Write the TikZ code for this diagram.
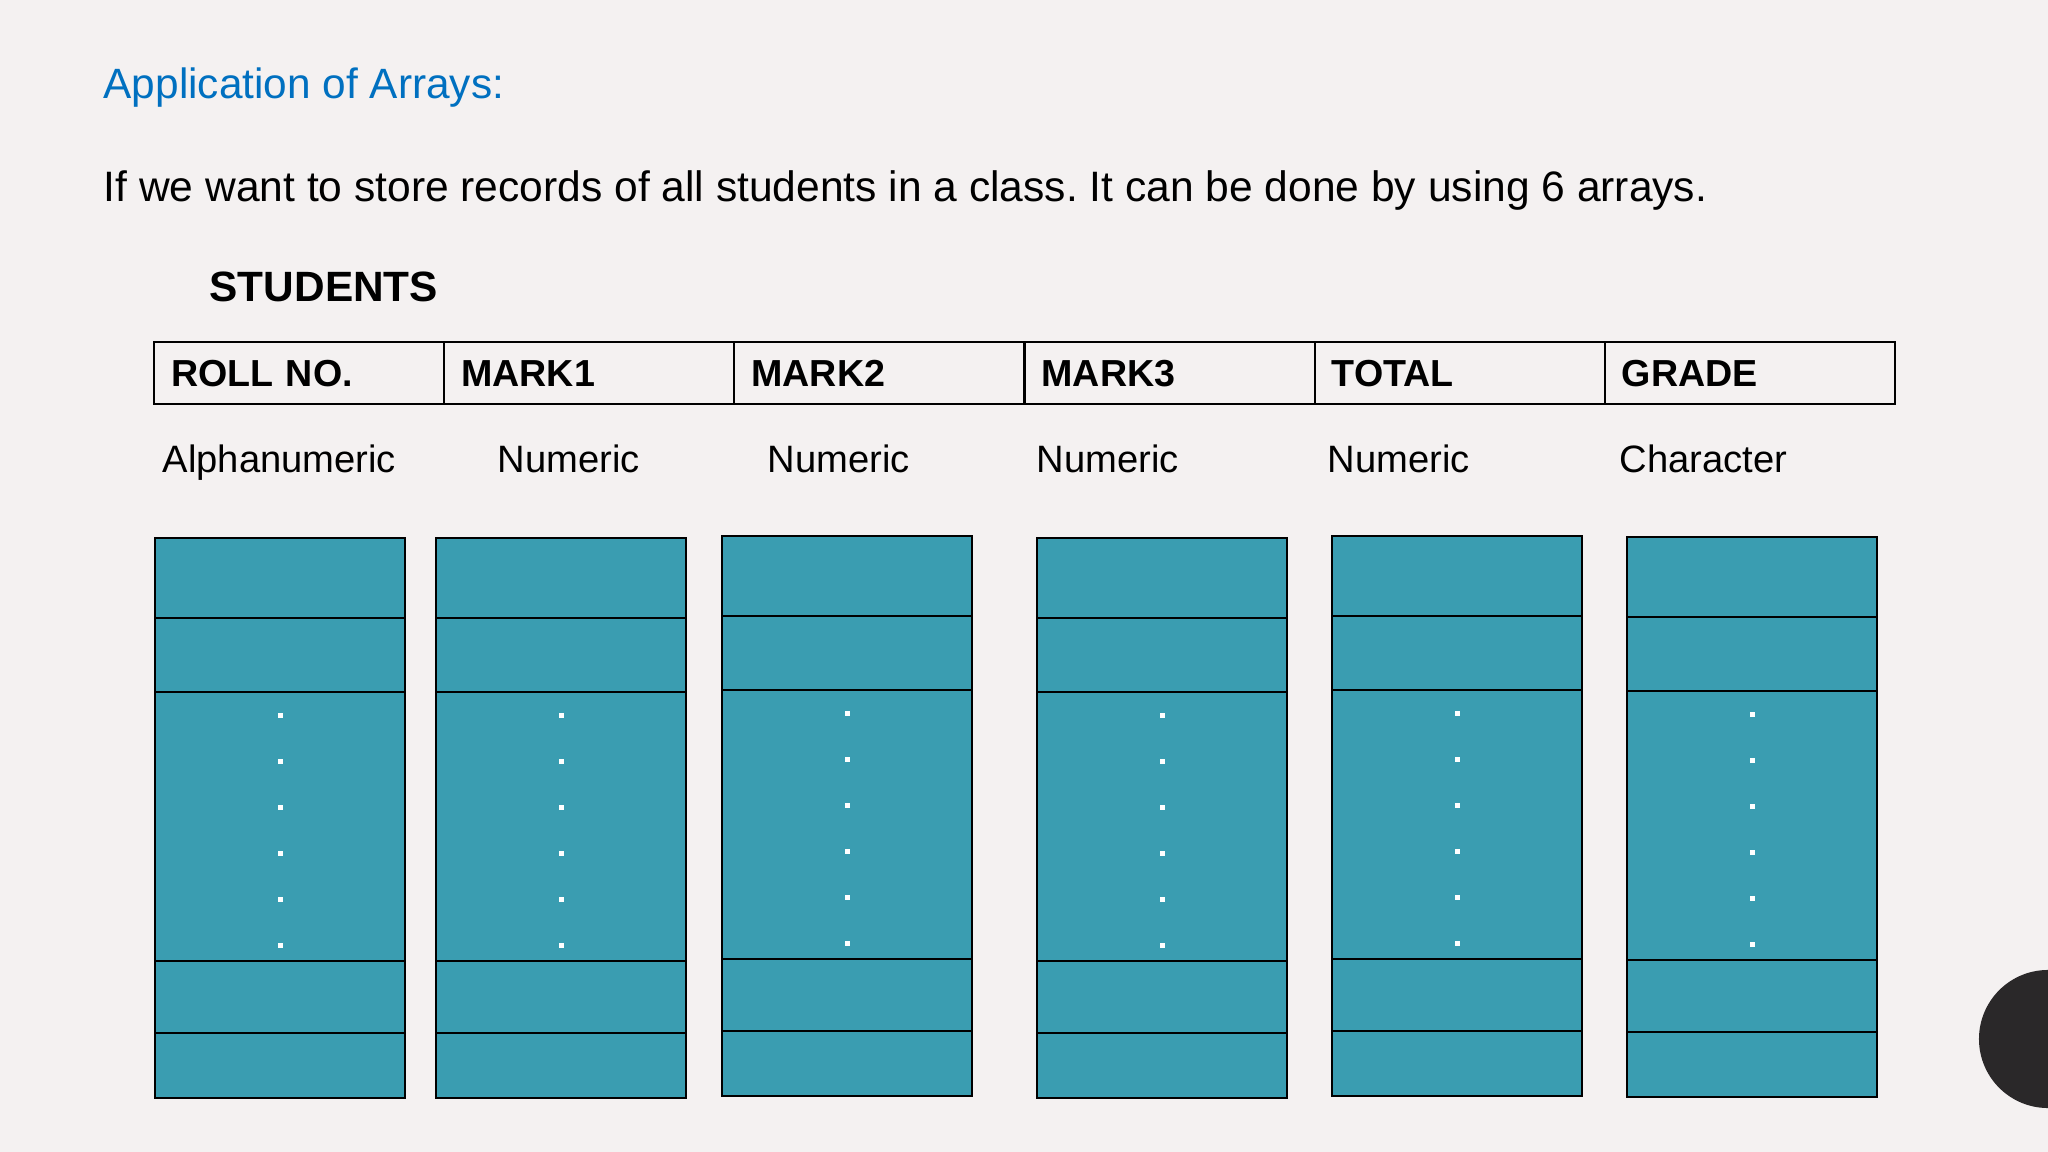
\documentclass[tikz,border=0pt]{standalone}
\usepackage{fontspec}
\setmainfont{Liberation Sans}
\usetikzlibrary{positioning}
\frenchspacing
\definecolor{slidebg}{HTML}{F4F1F1}
\definecolor{titleblue}{HTML}{0070C0}
\definecolor{arrayteal}{HTML}{3A9DB1}
\definecolor{cornerdark}{HTML}{2A2829}
\tikzstyle{slidetitle} = [anchor=base west, inner sep=0pt, text=titleblue, font=\fontsize{12.05}{14}\selectfont]
\tikzstyle{bodytext} = [anchor=base west, inner sep=0pt, font=\fontsize{12.1}{14}\selectfont]
\tikzstyle{tablename} = [anchor=base west, inner sep=0pt, font=\fontsize{12.05}{14}\selectfont\bfseries]
\tikzstyle{field} = [rectangle, draw=black, line width=0.6pt, outer sep=0pt, text width=2.56cm, inner xsep=0.17cm, inner ysep=0pt, minimum height=0.62cm, text height=0.27cm, text depth=0pt, align=left, font=\fontsize{10.7}{13}\selectfont\bfseries]
\tikzstyle{datatype} = [anchor=base west, inner sep=0pt, font=\fontsize{10.85}{13}\selectfont]
\tikzstyle{arraybox} = [rectangle, draw=black, line width=0.6pt, fill=arrayteal, minimum width=2.5cm, minimum height=5.6cm, inner sep=0pt, anchor=north west]
\tikzstyle{cellline} = [draw=black, line width=0.5pt]
\tikzstyle{holdot} = [rectangle, fill=white, minimum size=0.05cm, inner sep=0pt]

\begin{document}
\begin{tikzpicture}[x=0.01cm, y=-0.01cm, node distance=0pt]
    % Slide
    \useasboundingbox (0,0) rectangle (2048,1152);
    \clip (0,0) rectangle (2048,1152);
    \fill[slidebg] (0,0) rectangle (2048,1152);
    \fill[cornerdark] (2048,1039) circle (0.69cm);

    % Texts
    \node[slidetitle] (title) at (103,99) {Application of Arrays:};
    \node[bodytext] (intro) at (103,202) {If we want to store records of all students in a class. It can be done by using 6 arrays.};
    \node[tablename] (students) at (209,302) {STUDENTS};

    % Record fields
    \node[field, anchor=north west] (roll) at (154,342) {ROLL NO.};
    \node[field, right=of roll] (markone) {MARK1};
    \node[field, right=of markone] (marktwo) {MARK2};
    \node[field, right=of marktwo] (markthree) {MARK3};
    \node[field, right=of markthree] (total) {TOTAL};
    \node[field, right=of total] (grade) {GRADE};

    % Data types
    \node[datatype] (troll) at (162,473) {Alphanumeric};
    \node[datatype] (tmarkone) at (497,473) {Numeric};
    \node[datatype] (tmarktwo) at (767,473) {Numeric};
    \node[datatype] (tmarkthree) at (1036,473) {Numeric};
    \node[datatype] (ttotal) at (1327,473) {Numeric};
    \node[datatype] (tgrade) at (1619,473) {Character};

    % Arrays
    \foreach \name/\x/\y in {aroll/154/537, amarkone/435/537, amarktwo/721/535, amarkthree/1036/537, atotal/1331/535, agrade/1626/536} {
        \node[arraybox] (\name) at (\x,\y) {};
        \foreach \d in {0.81, 1.55, 4.24, 4.96}
            \draw[cellline] ([yshift=-\d cm]\name.north west) -- ([yshift=-\d cm]\name.north east);
        \foreach \d [count=\i] in {1.78, 2.24, 2.70, 3.16, 3.62, 4.08}
            \node[holdot] (\name-dot\i) at ([yshift=-\d cm]\name.north) {};
    }
\end{tikzpicture}
\end{document}
